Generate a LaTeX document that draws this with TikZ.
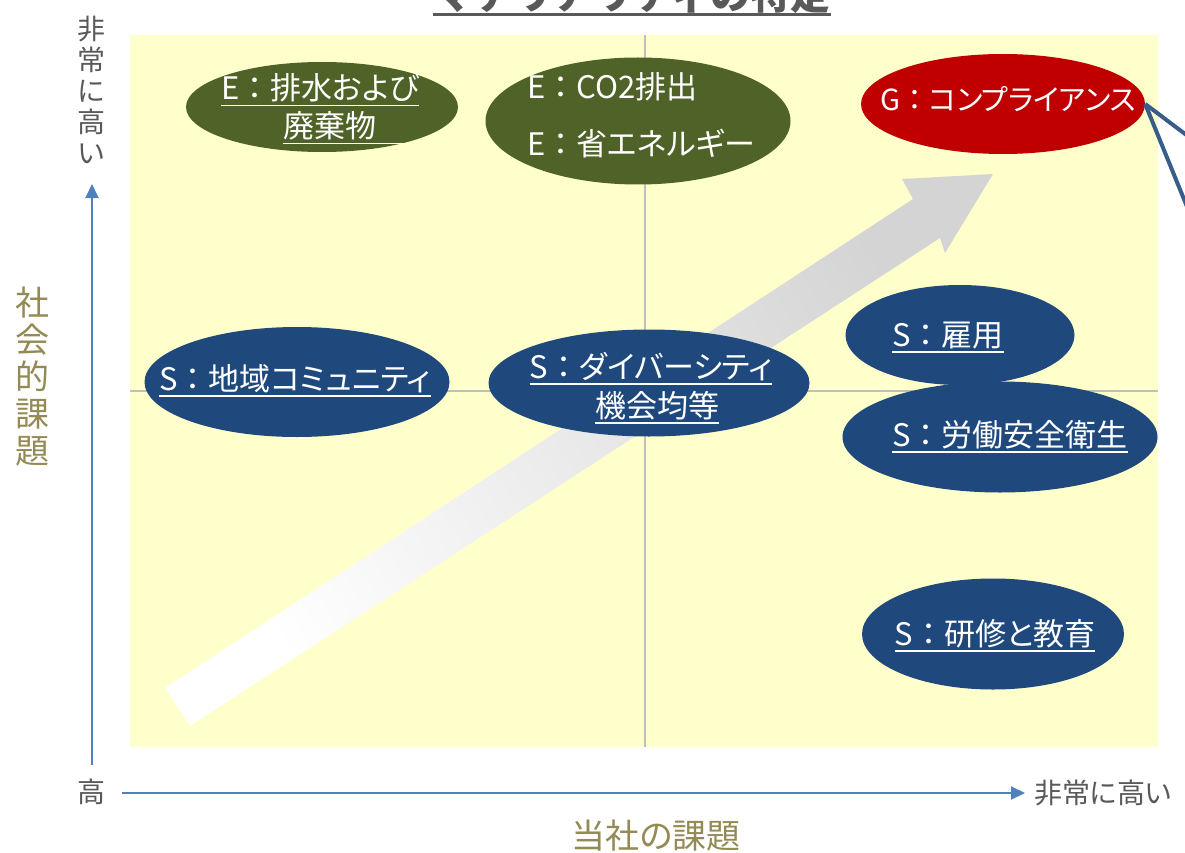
\documentclass[tikz,border=0pt]{standalone}
\usepackage{fontspec}
\setmainfont{Noto Sans CJK JP}[RawFeature=+palt]
\newfontfamily\jpf{Noto Sans CJK JP}
\usetikzlibrary{shapes.geometric,arrows.meta}
\definecolor{bgyellow}{HTML}{FFFFCC}
\definecolor{gridc}{HTML}{BFBFBF}
\definecolor{egreen}{HTML}{4F6228}
\definecolor{sblue}{HTML}{1F497D}
\definecolor{gred}{HTML}{C00000}
\definecolor{axisc}{HTML}{4F81BD}
\definecolor{txtgray}{HTML}{595959}
\definecolor{goldc}{HTML}{948A54}
\definecolor{calloutc}{HTML}{385D8A}
\definecolor{arrowgray}{HTML}{D4D4D4}
\newsavebox\ulbox
\newcommand\ulx[1]{\sbox\ulbox{#1}\rlap{\usebox\ulbox}\rule[-6.5pt]{\wd\ulbox}{1.5pt}}
\newcommand\cln{{\jpf ：}}
\begin{document}
\begin{tikzpicture}[x=1pt,y=-1pt,
  blob/.style={ellipse, inner sep=0pt, draw=none},
  etext/.style={text=white, inner sep=0pt, font=\fontsize{31}{38}\selectfont},
  axislbl/.style={text=txtgray, inner sep=0pt, align=center, font=\fontsize{28}{31}\selectfont},
  goldlbl/.style={text=goldc, inner sep=0pt, align=center, font=\fontsize{34}{37}\selectfont},
  axisarrow/.style={draw=axisc, line width=2pt, -{Triangle[length=14pt,width=13pt]}},
  gridline/.style={draw=gridc, line width=2pt},
  callout/.style={draw=calloutc, line width=4pt}
]
\useasboundingbox (0,0) rectangle (1185,853);
\fill[white] (0,0) rectangle (1185,853);
% background
\fill[bgyellow] (130,35) rectangle (1158,747);
\coordinate (gtop) at (645,35);
\coordinate (gbot) at (645,747);
\coordinate (gleft) at (130,391);
\coordinate (gright) at (1158,391);
\draw[gridline] (gtop) -- (gbot);
\draw[gridline] (gleft) -- (gright);
% title (cut off at top)
\node[text=txtgray, inner sep=0pt, anchor=base, font=\jpf\bfseries\fontsize{40}{48}\selectfont] (title) at (632,10) {マテリアリティの特定};
\draw[txtgray, line width=3pt] ([yshift=-5pt]title.base west) -- ([yshift=-5pt]title.base east);
% big arrow
\shade[top color=arrowgray, bottom color=white, shading angle=-57]
  (165,688) -- (913,199) -- (902,179) -- (993,174) -- (945,253) -- (940,238) -- (190,726) -- cycle;
% ellipses
\node[blob, fill=egreen, minimum width=272pt, minimum height=90pt] (e1) at (322,107) {};
\node[blob, fill=egreen, minimum width=305pt, minimum height=127pt] (e2) at (638,121) {};
\node[blob, fill=gred, minimum width=284pt, minimum height=100pt] (g) at (1003,104) {};
\node[blob, fill=sblue, minimum width=305pt, minimum height=110pt] (s1) at (297,382) {};
\node[blob, fill=sblue, minimum width=321pt, minimum height=107pt] (s2) at (649,383) {};
\node[blob, fill=sblue, minimum width=229pt, minimum height=100pt] (s3) at (960,335) {};
\node[blob, fill=sblue, minimum width=315pt, minimum height=111pt] (s4) at (1000,437) {};
\node[blob, fill=sblue, minimum width=262pt, minimum height=111pt] (s5) at (993,634) {};
% ellipse texts
\node[etext, anchor=base] (e1a) at (320,100) {\ulx{E\cln 排水および}};
\node[etext, anchor=base] (e1b) at (345,138) {\ulx{廃棄物　}};
\node[etext, anchor=base west] (e2a) at (527,99) {E\cln CO2排出};
\node[etext, anchor=base west] (e2b) at (527,156) {E\cln 省エネルギー};
\node[etext, anchor=base, font=\fontsize{29}{35}\selectfont] (ga) at (1008,111) {G\cln コンプライアンス};
\node[etext, anchor=base] (s1a) at (295,390) {\ulx{S\cln 地域コミュニティ}};
\node[etext, anchor=base] (s2a) at (651,378) {\ulx{S\cln ダイバーシティ}};
\node[etext, anchor=base] (s2b) at (657,417) {\ulx{機会均等}};
\node[etext, anchor=base] (s3a) at (948,346) {\ulx{S\cln 雇用}};
\node[etext, anchor=base] (s4a) at (1010,446) {\ulx{S\cln 労働安全衛生}};
\node[etext, anchor=base] (s5a) at (995,645) {\ulx{S\cln 研修と教育}};
% callout lines from G
\coordinate (c1) at (1225,164);
\coordinate (c2) at (1225,300);
\draw[callout] (g.east) -- (c1);
\draw[callout] (g.east) -- (c2);
% axes
\coordinate (vs) at (92,765);
\coordinate (ve) at (92,184);
\coordinate (hs) at (122,793);
\coordinate (he) at (1025,793);
\draw[axisarrow] (vs) -- (ve);
\draw[axisarrow] (hs) -- (he);
\node[axislbl] (ytop) at (91,90) {非\\常\\に\\高\\い};
\node[axislbl] (orig) at (91,792) {高};
\node[axislbl, anchor=west] (xend) at (1034,793) {非常に高い};
\node[goldlbl] (xlbl) at (656,836) {当社の課題};
\node[goldlbl] (ylbl) at (33,377) {社\\会\\的\\課\\題};
\end{tikzpicture}
\end{document}
